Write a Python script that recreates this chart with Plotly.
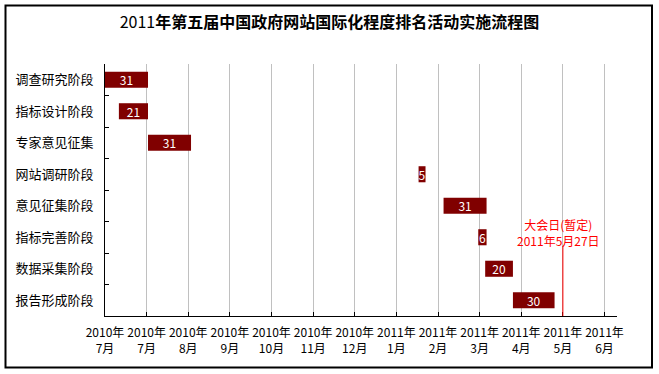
import plotly.graph_objects as go

# ---- data ----
tasks = ["调查研究阶段", "指标设计阶段", "专家意见征集", "网站调研阶段",
         "意见征集阶段", "指标完善阶段", "数据采集阶段", "报告形成阶段"]
start_dates = ["2010-07-01", "2010-07-11", "2010-08-01", "2011-02-12",
               "2011-03-02", "2011-03-27", "2011-04-01", "2011-04-21"]
durations = [31, 21, 31, 5, 31, 6, 20, 30]

tick_dates = ["2010-07-01", "2010-07-31", "2010-08-30", "2010-09-29", "2010-10-29",
              "2010-11-28", "2010-12-28", "2011-01-27", "2011-02-26", "2011-03-28",
              "2011-04-27", "2011-05-27", "2011-06-26"]
tick_labels = ["2010年<br>7月", "2010年<br>7月", "2010年<br>8月", "2010年<br>9月",
               "2010年<br>10月", "2010年<br>11月", "2010年<br>12月", "2011年<br>1月",
               "2011年<br>2月", "2011年<br>3月", "2011年<br>4月", "2011年<br>5月",
               "2011年<br>6月"]
x_range = ["2010-07-01", "2011-07-05"]

event_date = "2011-05-27"
event_label = "大会日(暂定)<br>2011年5月27日"
title_text = "2011<b>年第五届中国政府网站国际化程度排名活动实施流程图</b>"

FONT = "Noto Sans CJK SC, SimSun, sans-serif"
DAY_MS = 86400000

fig = go.Figure()
fig.add_trace(go.Bar(
    y=tasks,
    x=[d * DAY_MS for d in durations],
    base=start_dates,
    orientation="h",
    marker=dict(color="#800000", line=dict(width=0)),
    text=[str(d) for d in durations],
    textposition="inside",
    insidetextanchor="middle",
    textangle=0,
    constraintext="none",
    textfont=dict(color="white", size=12, family=FONT),
    hoverinfo="skip",
))

fig.add_shape(type="line", xref="x", yref="paper",
              x0=event_date, x1=event_date, y0=0, y1=0.278,
              line=dict(color="red", width=1))
fig.add_annotation(x=event_date, xref="x", yref="paper", y=0.33,
                   yanchor="middle", xanchor="center",
                   text=event_label, showarrow=False, xshift=-4,
                   font=dict(color="red", size=12, family=FONT))

# outer border
fig.add_shape(type="rect", xref="paper", yref="paper",
              x0=(5.5 - 105) / 512, x1=(652 - 105) / 512,
              y0=(316 - 367.5) / 252, y1=(316 - 5.5) / 252,
              line=dict(color="black", width=2), fillcolor="rgba(0,0,0,0)")

fig.update_layout(
    width=659, height=374,
    margin=dict(l=105, r=42, t=64, b=58),
    paper_bgcolor="white", plot_bgcolor="white",
    showlegend=False,
    bargap=0.49,
    font=dict(family=FONT, color="black", size=12),
    title=dict(text=title_text, x=0.5, xanchor="center", xref="container",
               y=1 - 22 / 374, yanchor="middle", yref="container",
               font=dict(size=16, family=FONT, color="black")),
    xaxis=dict(type="date", range=x_range, tickmode="array",
               tickvals=tick_dates, ticktext=tick_labels,
               showgrid=True, gridcolor="#c0c0c0", gridwidth=1,
               showline=True, linecolor="black", linewidth=1,
               ticks="inside", ticklen=4, tickcolor="black",
               ticklabelstandoff=6, zeroline=False,
               tickfont=dict(size=12, family=FONT, color="black")),
    yaxis=dict(type="category", categoryorder="array", categoryarray=tasks,
               autorange="reversed", showgrid=False,
               showline=True, linecolor="black", linewidth=1,
               ticks="inside", ticklen=4, tickcolor="black",
               tickson="boundaries", ticklabelstandoff=8,
               tickfont=dict(size=13, family=FONT, color="black")),
)

fig.write_html("out.html", config={"displayModeBar": False},
               post_script="document.body.style.margin='0';document.body.style.overflow='hidden';")
